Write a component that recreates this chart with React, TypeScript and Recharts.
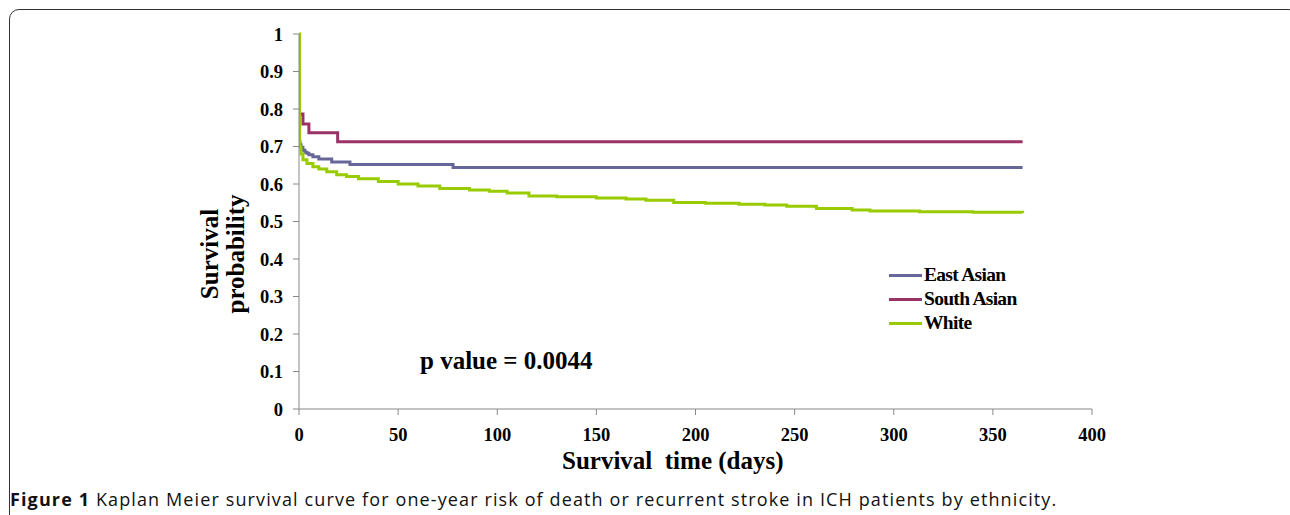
import { CartesianGrid, Line, LineChart, XAxis, YAxis } from "recharts";

// Kaplan-Meier step curves (time in days, survival probability)
const eastTime = [0, 0.5, 1, 2, 3, 4, 5, 7, 10, 16.5, 25.7, 77.7, 365];
const eastSurv = [0.713, 0.705, 0.698, 0.69, 0.685, 0.682, 0.678, 0.673, 0.667, 0.659, 0.652, 0.644, 0.644];

const southTime = [0, 2, 5, 19.5, 365];
const southSurv = [0.787, 0.76, 0.737, 0.713, 0.713];

const whiteTime = [
  0, 0.3, 1, 2, 4, 7, 10, 14, 19, 24, 30, 40, 50, 60, 71, 86, 96, 105, 116, 130, 150, 165, 175, 189,
  205, 222, 235, 246, 261, 279, 288, 313, 340, 365,
];
const whiteSurv = [
  1, 0.7, 0.68, 0.665, 0.655, 0.646, 0.64, 0.633, 0.625, 0.62, 0.614, 0.607, 0.6, 0.595, 0.588,
  0.584, 0.581, 0.576, 0.568, 0.566, 0.563, 0.56, 0.557, 0.551, 0.549, 0.546, 0.544, 0.541, 0.535,
  0.531, 0.528, 0.526, 0.525, 0.523,
];

const xTicks = [0, 50, 100, 150, 200, 250, 300, 350, 400];
const yTicks = [0, 0.1, 0.2, 0.3, 0.4, 0.5, 0.6, 0.7, 0.8, 0.9, 1];

const toRows = (t: number[], s: number[]) => t.map((d, i) => ({ day: d, surv: s[i] }));

const series = [
  { name: "East Asian", color: "#666699", data: toRows(eastTime, eastSurv) },
  { name: "South Asian", color: "#993366", data: toRows(southTime, southSurv) },
  { name: "White", color: "#99CC00", data: toRows(whiteTime, whiteSurv) },
];

const serif = "'Liberation Serif', 'Times New Roman', serif";
const tickStyle = { fill: "#000", fontSize: 18.5, fontWeight: 700, fontFamily: serif };

export default function App() {
  return (
    <div
      style={{
        position: "absolute",
        left: 0,
        top: 0,
        width: 1290,
        height: 515,
        overflow: "hidden",
        background: "#fff",
      }}
    >
      <div
        style={{
          position: "absolute",
          left: 9,
          top: 9,
          width: 1290,
          height: 540,
          border: "1.5px solid #333",
          borderRadius: 10,
          boxSizing: "border-box",
        }}
      />
      <LineChart
        width={1290}
        height={515}
        margin={{ top: 34, right: 198, bottom: 66, left: 239 }}
        style={{ position: "absolute", left: 0, top: 0 }}
      >
        <CartesianGrid stroke="none" />
        <XAxis
          type="number"
          dataKey="day"
          domain={[0, 400]}
          ticks={xTicks}
          height={40}
          stroke="#888"
          tickSize={6}
          tickMargin={13}
          tick={tickStyle}
          allowDataOverflow
        />
        <YAxis
          type="number"
          dataKey="surv"
          domain={[0, 1]}
          ticks={yTicks}
          width={60}
          stroke="#888"
          tickSize={6}
          tickMargin={10}
          tick={tickStyle}
        />
        {series.map((s) => (
          <Line
            key={s.name}
            name={s.name}
            data={s.data}
            dataKey="surv"
            type="stepAfter"
            stroke={s.color}
            strokeWidth={3}
            dot={false}
            activeDot={false}
            isAnimationActive={false}
          />
        ))}
      </LineChart>

      {/* legend */}
      <div
        style={{
          position: "absolute",
          left: 889,
          top: 263,
          fontFamily: serif,
          fontWeight: 700,
          fontSize: 19.5,
          letterSpacing: -0.7,
        }}
      >
        {series.map((s) => (
          <div key={s.name} style={{ display: "flex", alignItems: "center", height: 24 }}>
            <span style={{ width: 33, height: 3, background: s.color, marginRight: 2 }} />
            <span>{s.name}</span>
          </div>
        ))}
      </div>

      <div style={{ position: "absolute", left: 200, top: 254, width: 0, height: 0 }}>
        <div
          style={{
            position: "absolute",
            transform: "translate(-50%, -50%) rotate(-90deg)",
            fontFamily: serif,
            fontWeight: 700,
            fontSize: 25,
            lineHeight: "26px",
            textAlign: "center",
            whiteSpace: "nowrap",
            left: 23,
          }}
        >
          Survival
          <br />
          probability
        </div>
      </div>

      <div
        style={{
          position: "absolute",
          left: 420,
          top: 347,
          fontFamily: serif,
          fontWeight: 700,
          fontSize: 25,
          whiteSpace: "nowrap",
        }}
      >
        p value = 0.0044
      </div>

      <div
        style={{
          position: "absolute",
          left: 562,
          top: 447,
          fontFamily: serif,
          fontWeight: 700,
          fontSize: 25,
          whiteSpace: "pre",
        }}
      >
        {"Survival  time (days)"}
      </div>

      <div
        style={{
          position: "absolute",
          left: 10,
          top: 487,
          fontFamily: "'Open Sans', 'Noto Sans', sans-serif",
          fontSize: 18,
          letterSpacing: 1.12,
          whiteSpace: "nowrap",
          color: "#111",
        }}
      >
        <b>Figure 1</b> Kaplan Meier survival curve for one-year risk of death or recurrent stroke in ICH
        patients by ethnicity.
      </div>
    </div>
  );
}
